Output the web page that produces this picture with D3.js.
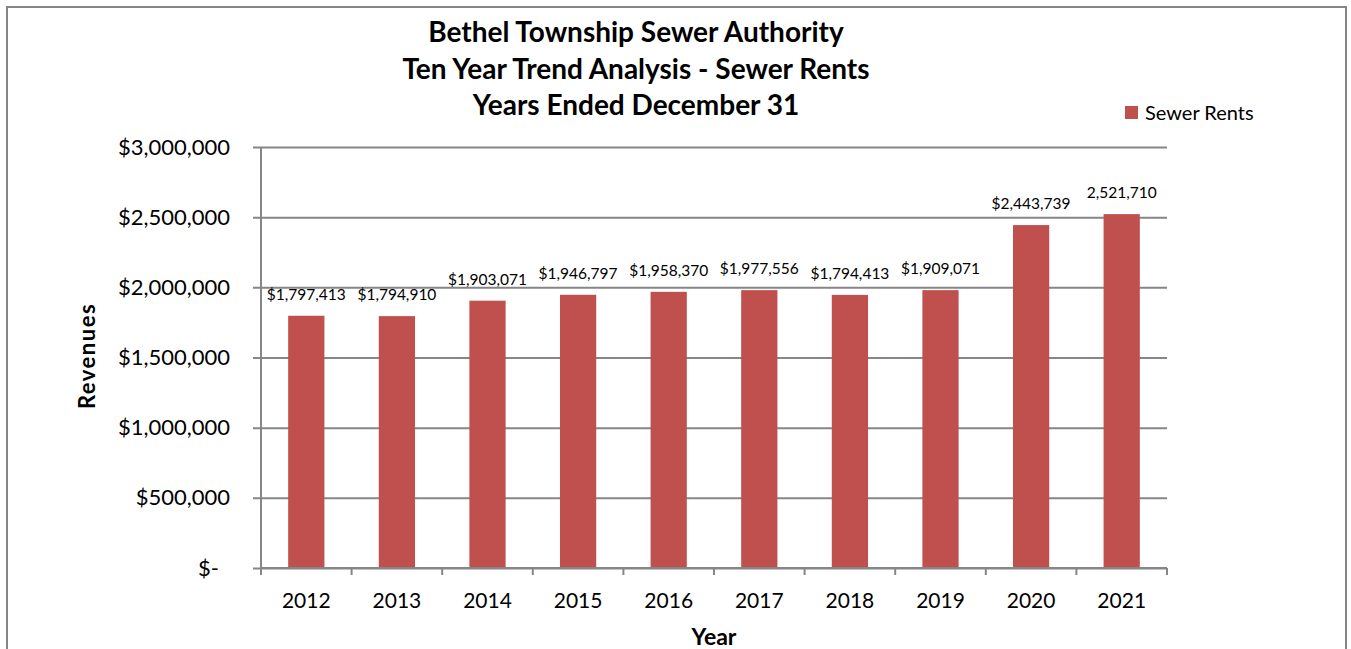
<!DOCTYPE html>
<html>
<head>
<meta charset="utf-8">
<script src="https://cdn.jsdelivr.net/npm/d3@7"></script>
<style>
  html, body { margin: 0; padding: 0; background: #fff; }
  svg { display: block; }
  text { font-family: Lato, "Open Sans", sans-serif; fill: #000; }
</style>
</head>
<body>
<svg id="chart" width="1351" height="649"></svg>
<script>
const years = ["2012", "2013", "2014", "2015", "2016", "2017", "2018", "2019", "2020", "2021"];
const revenues = [1797413, 1794910, 1905000, 1946797, 1968000, 1980000, 1946000, 1980000, 2443739, 2521710];
const valueLabels = ["$1,797,413", "$1,794,910", "$1,903,071", "$1,946,797", "$1,958,370", "$1,977,556", "$1,794,413", "$1,909,071", "$2,443,739", "2,521,710"];
const yTicks = [0, 500000, 1000000, 1500000, 2000000, 2500000, 3000000];
const titleLines = ["Bethel Township Sewer Authority", "Ten Year Trend Analysis - Sewer Rents", "Years Ended December 31"];
const seriesName = "Sewer Rents";

const svg = d3.select("#chart");
const gridColor = "#868686";
const barColor = "#C0504D";

// outer chart border
svg.append("rect")
  .attr("x", 7).attr("y", 7).attr("width", 1339).attr("height", 660)
  .attr("fill", "none").attr("stroke", gridColor).attr("stroke-width", 2);

const plot = { left: 261, right: 1167, top: 147, bottom: 568 };

const x = d3.scaleBand().domain(years).range([plot.left, plot.right]).paddingInner(0.6).paddingOuter(0.3);
const y = d3.scaleLinear().domain([0, 3000000]).range([plot.bottom, plot.top]);

const fmt = v => v === 0 ? "$-" : "$" + d3.format(",")(v);

// gridlines + y axis
const yAxis = d3.axisLeft(y).tickValues(yTicks).tickFormat(fmt).tickSize(plot.right - plot.left + 8).tickPadding(23);
const gy = svg.append("g").attr("transform", `translate(${plot.right},0)`).call(yAxis);
gy.select(".domain").remove();
gy.selectAll(".tick line").attr("stroke", gridColor).attr("stroke-width", 2);
gy.selectAll(".tick text")
  .style("font-size", "22px")
  .attr("dx", d => d === 0 ? -11 : 0);

// y axis line
svg.append("line")
  .attr("x1", plot.left).attr("x2", plot.left)
  .attr("y1", plot.top).attr("y2", plot.bottom)
  .attr("stroke", gridColor).attr("stroke-width", 2);

// bars
svg.append("g").selectAll("rect").data(years).join("rect")
  .attr("x", d => x(d))
  .attr("width", x.bandwidth())
  .attr("y", (d, i) => y(revenues[i]))
  .attr("height", (d, i) => y(0) - y(revenues[i]))
  .attr("fill", barColor);

// x axis
const xAxis = d3.axisBottom(x).tickSize(0).tickPadding(25);
const gx = svg.append("g").attr("transform", `translate(0,${plot.bottom})`).call(xAxis);
gx.select(".domain").attr("stroke", gridColor).attr("stroke-width", 2)
  .attr("d", `M${plot.left},0H${plot.right}`);
gx.selectAll(".tick text").style("font-size", "21px");
// category boundary ticks
const bounds = d3.range(years.length + 1).map(i => plot.left + i * (plot.right - plot.left) / years.length);
gx.append("g").selectAll("line").data(bounds).join("line")
  .attr("x1", d => d).attr("x2", d => d).attr("y1", 0).attr("y2", 7)
  .attr("stroke", gridColor).attr("stroke-width", 2);

// value labels
svg.append("g").selectAll("text").data(years).join("text")
  .attr("x", d => x(d) + x.bandwidth() / 2)
  .attr("y", (d, i) => y(revenues[i]) - 16)
  .attr("text-anchor", "middle")
  .style("font-size", "15.5px")
  .text((d, i) => valueLabels[i]);

// title
const titleY = [42, 79, 115];
svg.append("g").selectAll("text").data(titleLines).join("text")
  .attr("x", 636).attr("y", (d, i) => titleY[i])
  .attr("text-anchor", "middle")
  .style("font-size", "28px").style("font-weight", "bold")
  .text(d => d);

// axis titles
svg.append("text")
  .attr("transform", "translate(95,356) rotate(-90)")
  .attr("text-anchor", "middle")
  .style("font-size", "22px").style("font-weight", "bold")
  .style("letter-spacing", "1.5px")
  .text("Revenues");

svg.append("text")
  .attr("x", 714).attr("y", 645)
  .attr("text-anchor", "middle")
  .style("font-size", "23px").style("font-weight", "bold")
  .text("Year");

// legend
const lg = svg.append("g").attr("transform", "translate(1125,106)");
lg.append("rect").attr("width", 13).attr("height", 13).attr("fill", barColor);
lg.append("text").attr("x", 20).attr("y", 13.5).style("font-size", "20px").text(seriesName);
</script>
</body>
</html>
